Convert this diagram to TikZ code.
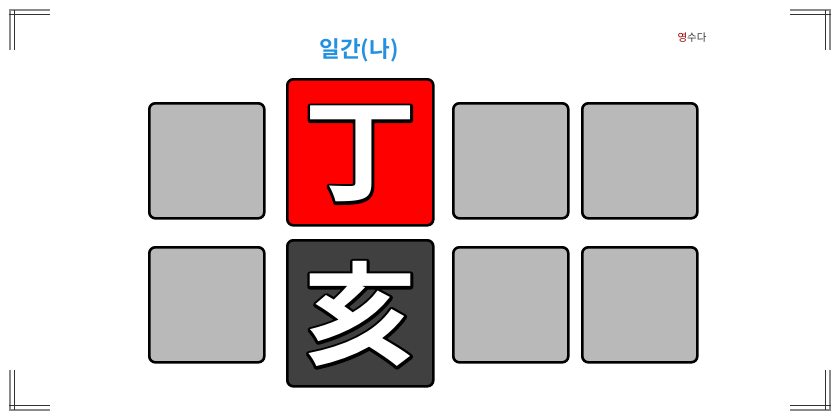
\documentclass[tikz,border=0pt]{standalone}
\usepackage{fontspec}
\newfontfamily\kr{Noto Sans CJK KR}
\newfontfamily\krb{Noto Sans CJK KR Bold}
\definecolor{boxgray}{HTML}{B9B9B9}
\definecolor{boxred}{HTML}{FF0000}
\definecolor{boxdark}{HTML}{404040}
\definecolor{lblue}{HTML}{2391E0}
\definecolor{markgray}{HTML}{8A8A8A}
\definecolor{markdark}{HTML}{333333}
\newcommand{\outlined}[1]{\rlap{\special{pdf:literal direct 1 Tr 5.5 w 1 j 0 0 0 RG}#1\special{pdf:literal direct 0 Tr}}#1}
\tikzset{
  cell/.style={draw=black, line width=2.6pt, rounded corners=6pt, minimum width=#1, minimum height=#1, inner sep=0pt, anchor=north west},
  cell/.default=115pt,
  glyph/.style={font=\krb\fontsize{112}{112}\selectfont, text=white},
  lgray/.style={draw=markgray, line width=1.6pt},
  ldark/.style={draw=markdark, line width=1.6pt}
}
\begin{document}
\begin{tikzpicture}[x=1pt,y=-1pt]
\useasboundingbox (0,0) rectangle (840,420);
% corner marks
\draw[lgray] (9,10) -- (50,10); \draw[lgray] (10,9) -- (10,50);
\draw[ldark] (9,14.5) -- (50,14.5); \draw[ldark] (14.5,10) -- (14.5,50);
\draw[lgray] (790,10) -- (831,10); \draw[lgray] (830,9) -- (830,50);
\draw[ldark] (790,14.5) -- (831,14.5); \draw[ldark] (825.5,10) -- (825.5,50);
\draw[lgray] (9,410) -- (50,410); \draw[lgray] (10,370) -- (10,411);
\draw[ldark] (9,405.5) -- (50,405.5); \draw[ldark] (14.5,370) -- (14.5,410);
\draw[lgray] (790,410) -- (831,410); \draw[lgray] (830,370) -- (830,411);
\draw[ldark] (790,405.5) -- (831,405.5); \draw[ldark] (825.5,370) -- (825.5,410);
% cells
\node[cell, fill=boxgray] (a1) at (148,102) {};
\node[cell=146pt, fill=boxred] (a2) at (286,78) {};
\node[cell, fill=boxgray] (a3) at (452,102) {};
\node[cell, fill=boxgray] (a4) at (581,102) {};
\node[cell, fill=boxgray] (b1) at (148,246) {};
\node[cell=146pt, fill=boxdark] (b2) at (286,239) {};
\node[cell, fill=boxgray] (b3) at (452,246) {};
\node[cell, fill=boxgray] (b4) at (581,246) {};
\node[glyph] (g1) at ([yshift=-2pt]a2.center) {\outlined{丁}};
\node[glyph] (g2) at ([yshift=-1pt]b2.center) {\outlined{亥}};
\node[font=\krb\fontsize{22.5}{22.5}\selectfont, text=lblue] (lbl) at (359,50) {일간(나)};
\node[font=\kr\fontsize{10.5}{10.5}\selectfont, text=markdark] (sig) at (692,38) {\textcolor{red!60!black}{영}수다};
\end{tikzpicture}
\end{document}
